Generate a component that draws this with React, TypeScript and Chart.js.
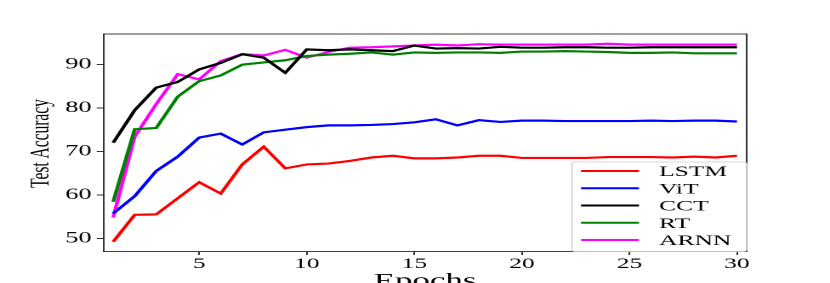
import React, { useEffect, useRef } from "react";
import { Chart, registerables } from "chart.js";

Chart.register(...registerables);

// ---- data ----
const epochs = [1,2,3,4,5,6,7,8,9,10,11,12,13,14,15,16,17,18,19,20,21,22,23,24,25,26,27,28,29,30];
const lstm = [49.2,55.4,55.5,59.2,62.9,60.3,67.0,71.1,66.1,67.0,67.2,67.8,68.6,69.0,68.4,68.4,68.6,69.0,69.0,68.5,68.5,68.5,68.5,68.7,68.7,68.7,68.6,68.8,68.6,69.0];
const vit = [55.7,59.7,65.5,68.8,73.2,74.1,71.6,74.4,75.0,75.6,76.0,76.0,76.1,76.3,76.7,77.4,76.0,77.2,76.8,77.1,77.1,77.0,77.0,77.0,77.0,77.1,77.0,77.1,77.1,76.9];
const cct = [72.0,79.5,84.7,86.0,88.9,90.4,92.4,91.6,88.1,93.5,93.3,93.5,93.3,93.1,94.4,93.7,93.8,93.7,94.1,93.9,93.9,94.0,94.0,93.9,93.9,94.0,94.0,94.0,94.0,94.0];
const rt = [58.4,75.1,75.4,82.6,86.2,87.5,90.0,90.5,91.0,92.0,92.3,92.5,92.8,92.3,92.8,92.7,92.8,92.8,92.7,93.0,93.0,93.1,93.0,92.9,92.7,92.7,92.8,92.6,92.6,92.6];
const arnn = [54.8,73.4,80.9,87.8,86.6,90.8,92.4,92.1,93.4,91.6,92.9,93.9,94.0,94.2,94.4,94.6,94.4,94.7,94.6,94.6,94.6,94.6,94.6,94.8,94.6,94.6,94.6,94.6,94.6,94.6];

const seriesNames = ["LSTM", "ViT", "CCT", "RT", "ARNN"];
const seriesColors = ["#ff0000", "#0000ff", "#000000", "#008000", "#ff00ff"];
const seriesValues = [lstm, vit, cct, rt, arnn];

const xTicks = [5, 10, 15, 20, 25, 30];
const yTicks = [50, 60, 70, 80, 90];
const xTitle = "Epochs";
const yTitle = "Test Accuracy";

// ---- layout (unstretched canvas space; canvas is stretched horizontally) ----
const W = 488;
const H = 283;
const S = 830 / W;
const FONT = "'Liberation Serif', 'Times New Roman', serif";

const frameAndText = {
  id: "frameAndText",
  afterDraw(chart: any) {
    const ctx = chart.ctx;
    const a = chart.chartArea;
    ctx.save();
    // top & right spines
    ctx.strokeStyle = "#000";
    ctx.lineWidth = 0.8;
    ctx.beginPath();
    ctx.moveTo(a.left, a.top);
    ctx.lineTo(a.right, a.top);
    ctx.lineTo(a.right, a.bottom);
    ctx.stroke();

    // axis titles
    ctx.fillStyle = "#000";
    ctx.textAlign = "center";
    ctx.textBaseline = "alphabetic";
    ctx.font = `20.5px ${FONT}`;
    ctx.fillText(xTitle, (a.left + a.right) / 2, 287);
    ctx.save();
    ctx.translate(28.5, 143.5);
    ctx.rotate(-Math.PI / 2);
    ctx.font = `15.5px ${FONT}`;
    ctx.fillText(yTitle, 0, 0);
    ctx.restore();

    // legend
    const x1 = 336.3, y1 = 162, x2 = a.right, y2 = a.bottom;
    const r = 2;
    ctx.beginPath();
    ctx.moveTo(x1 + r, y1);
    ctx.lineTo(x2 - r, y1);
    ctx.quadraticCurveTo(x2, y1, x2, y1 + r);
    ctx.lineTo(x2, y2 - r);
    ctx.quadraticCurveTo(x2, y2, x2 - r, y2);
    ctx.lineTo(x1 + r, y2);
    ctx.quadraticCurveTo(x1, y2, x1, y2 - r);
    ctx.lineTo(x1, y1 + r);
    ctx.quadraticCurveTo(x1, y1, x1 + r, y1);
    ctx.closePath();
    ctx.fillStyle = "rgba(255,255,255,0.85)";
    ctx.fill();
    ctx.strokeStyle = "#cccccc";
    ctx.lineWidth = 0.8;
    ctx.stroke();

    ctx.font = `15px ${FONT}`;
    ctx.textAlign = "left";
    chart.data.datasets.forEach((ds: any, i: number) => {
      const cy = 171 + i * 17.25;
      ctx.strokeStyle = ds.borderColor;
      ctx.lineWidth = 2;
      ctx.beginPath();
      ctx.moveTo(341.6, cy);
      ctx.lineTo(375.7, cy);
      ctx.stroke();
      ctx.fillStyle = "#000";
      ctx.fillText(ds.label, 387.5, cy + 5);
    });
    ctx.restore();
  },
};

export default function App() {
  const ref = useRef<HTMLCanvasElement | null>(null);

  useEffect(() => {
    const canvas = ref.current;
    if (!canvas) return;
    const datasets = seriesNames.map((name, i) => ({
      label: name,
      data: epochs.map((e, j) => ({ x: e, y: seriesValues[i][j] })),
      borderColor: seriesColors[i],
      backgroundColor: seriesColors[i],
      borderWidth: 2.2,
      pointRadius: 0,
      tension: 0,
      fill: false,
    }));
    const chart = new Chart(canvas, {
      type: "line",
      data: { datasets },
      plugins: [frameAndText],
      options: {
        animation: false,
        responsive: false,
        devicePixelRatio: 2,
        layout: { padding: { left: 0, top: 34, right: W - 439, bottom: 0 } },
        plugins: { legend: { display: false }, tooltip: { enabled: false }, title: { display: false } },
        scales: {
          x: {
            type: "linear",
            min: 0.55,
            max: 30.45,
            afterBuildTicks: (s: any) => { s.ticks = xTicks.map((v) => ({ value: v })); },
            afterFit: (s: any) => { s.height = 31.5; },
            grid: { display: true, drawOnChartArea: false, drawTicks: true, tickLength: 3.5, color: "#000", lineWidth: 0.8 },
            border: { display: true, color: "#000", width: 0.8 },
            ticks: { font: { family: FONT, size: 15 }, color: "#000", padding: 0, maxRotation: 0, autoSkip: false },
          },
          y: {
            type: "linear",
            min: 46.95,
            max: 97.05,
            afterBuildTicks: (s: any) => { s.ticks = yTicks.map((v) => ({ value: v })); },
            afterFit: (s: any) => { s.width = 60.85; },
            grid: { display: true, drawOnChartArea: false, drawTicks: true, tickLength: 4, color: "#000", lineWidth: 0.8 },
            border: { display: true, color: "#000", width: 0.8 },
            ticks: { font: { family: FONT, size: 15.5 }, color: "#000", padding: 3, autoSkip: false },
          },
        },
      },
    } as any);
    return () => chart.destroy();
  }, []);

  return (
    <div style={{ position: "fixed", left: 0, top: 0, width: 830, height: H, overflow: "hidden", background: "#fff" }}>
      <canvas
        ref={ref}
        width={W}
        height={H}
        style={{ position: "absolute", left: 0, top: 0, width: W, height: H, transform: `scaleX(${S})`, transformOrigin: "0 0" }}
      />
    </div>
  );
}
